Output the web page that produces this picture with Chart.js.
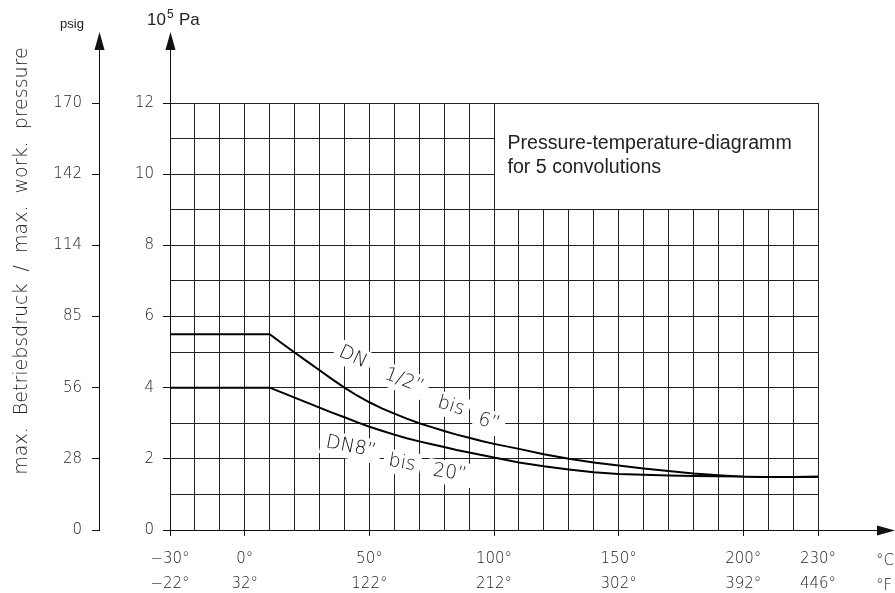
<!DOCTYPE html>
<html>
<head>
<meta charset="utf-8">
<script src="https://cdn.jsdelivr.net/npm/chart.js@4.4.1/dist/chart.umd.min.js"></script>
<style>
  html, body { margin: 0; padding: 0; background: #fff; }
  #wrap { width: 895px; height: 593px; position: relative; }
</style>
</head>
<body>
<div id="wrap"><canvas id="chart"></canvas></div>
<script>
// temperature in °C, pressure in 10^5 Pa
const temps = [-30, 10, 15, 20, 25, 30, 35, 40, 45, 50, 55, 60, 65, 70, 75, 80, 85, 90, 95, 100, 110, 120, 130, 140, 150, 160, 170, 180, 190, 200, 210, 220, 230];
const dnHalfTo6 = [5.5, 5.5, 5.24, 4.99, 4.74, 4.49, 4.24, 4.0, 3.78, 3.59, 3.42, 3.27, 3.13, 3.0, 2.89, 2.78, 2.68, 2.59, 2.5, 2.42, 2.28, 2.13, 2.0, 1.9, 1.81, 1.73, 1.66, 1.59, 1.54, 1.5, 1.49, 1.49, 1.5];
const dn8To20 = [4.0, 4.0, 3.86, 3.72, 3.58, 3.44, 3.3, 3.17, 3.03, 2.9, 2.79, 2.68, 2.58, 2.49, 2.41, 2.33, 2.25, 2.18, 2.11, 2.04, 1.9, 1.79, 1.7, 1.62, 1.575, 1.55, 1.53, 1.52, 1.51, 1.5, 1.49, 1.49, 1.5];

const celsiusTicks = [-30, 0, 50, 100, 150, 200, 230];
const fahrenheitTicks = [-22, 32, 122, 212, 302, 392, 446];
const paTicks = [0, 2, 4, 6, 8, 10, 12];
const psigTicks = [0, 28, 56, 85, 114, 142, 170];

const thin = "'DejaVu Sans', 'Liberation Sans', sans-serif";
const arial = "'Liberation Sans', Arial, sans-serif";
const ink = "#111";

const fmt = (v) => (v < 0 ? "\u2212" + Math.abs(v) : String(v)) + "°";

// words written along the curves: [text, °C, 10^5 Pa, angle]
const curveWords = [
  ["DN", 43.4, 4.86, 25],
  ["1/2\u201D", 63.9, 4.19, 21],
  ["bis", 82.7, 3.48, 17],
  ["6\u201D", 98.0, 3.03, 14],
  ["DN8\u201D", 42.6, 2.33, 11],
  ["bis", 63.1, 1.88, 10],
  ["20\u201D", 82.3, 1.6, 8],
];

const al = (p) => Math.round(p - 0.5) + 0.5;

function arrowUp(ctx, x, tip) {
  ctx.beginPath();
  ctx.moveTo(x, tip);
  ctx.lineTo(x - 5, tip + 18);
  ctx.lineTo(x + 5, tip + 18);
  ctx.closePath();
  ctx.fill();
}

const decor = {
  id: "decor",
  beforeDatasetsDraw(chart) {
    const { ctx, scales: { x, y } } = chart;
    const l = al(x.getPixelForValue(100)), r = al(x.getPixelForValue(230));
    const t = al(y.getPixelForValue(12)), b = al(y.getPixelForValue(9));
    ctx.save();
    ctx.fillStyle = "#fff";
    ctx.fillRect(l + 0.5, t + 0.5, r - l - 1, b - t - 1);
    ctx.fillStyle = "#222";
    ctx.font = "19.6px " + arial;
    ctx.textBaseline = "alphabetic";
    ctx.fillText("Pressure-temperature-diagramm", l + 13, t + 45);
    ctx.fillText("for 5 convolutions", l + 13, t + 69);
    ctx.restore();
  },
  afterDatasetsDraw(chart) {
    const { ctx, scales: { x, y } } = chart;
    ctx.save();
    ctx.font = "200 19px " + thin;
    ctx.textAlign = "center";
    ctx.textBaseline = "middle";
    curveWords.forEach(([txt, t, p, ang]) => {
      ctx.save();
      ctx.translate(x.getPixelForValue(t), y.getPixelForValue(p));
      ctx.rotate((ang * Math.PI) / 180);
      const w = ctx.measureText(txt).width;
      ctx.fillStyle = "#fff";
      ctx.fillRect(-w / 2 - 5, -12, w + 10, 24);
      ctx.fillStyle = ink;
      ctx.fillText(txt, 0, 0);
      ctx.restore();
    });
    ctx.restore();
  },
  afterDraw(chart) {
    const { ctx, chartArea, scales: { yPsig } } = chart;
    const xa = al(chartArea.left), xp = al(yPsig.right), yb = al(chartArea.bottom);
    ctx.save();
    ctx.strokeStyle = ink;
    ctx.fillStyle = ink;
    ctx.lineWidth = 1;
    ctx.beginPath();
    ctx.moveTo(xa, chartArea.top);
    ctx.lineTo(xa, 48);
    ctx.moveTo(xp, chartArea.bottom);
    ctx.lineTo(xp, 48);
    ctx.moveTo(163, yb);
    ctx.lineTo(880, yb);
    ctx.stroke();
    arrowUp(ctx, xa, 32);
    arrowUp(ctx, xp, 32);
    ctx.beginPath();
    ctx.moveTo(895, yb);
    ctx.lineTo(877, yb - 5);
    ctx.lineTo(877, yb + 5);
    ctx.closePath();
    ctx.fill();

    // unit labels
    ctx.fillStyle = "#222";
    ctx.font = "13px " + arial;
    ctx.textAlign = "center";
    ctx.textBaseline = "alphabetic";
    ctx.fillText("psig", 72, 28);
    ctx.textAlign = "left";
    ctx.font = "17px " + arial;
    ctx.fillText("10", 147, 25);
    const w10 = ctx.measureText("10").width;
    ctx.font = "12px " + arial;
    ctx.fillText("5", 147 + w10 + 1, 18);
    ctx.font = "17px " + arial;
    ctx.fillText("Pa", 147 + w10 + 13, 25);

    ctx.font = "200 15px " + thin;
    ctx.textBaseline = "middle";
    ctx.fillText("°C", 876, 561);
    ctx.fillText("°F", 876, 586);

    ctx.translate(22, 261);
    ctx.rotate(-Math.PI / 2);
    ctx.textAlign = "center";
    ctx.font = "200 19px " + thin;
    ctx.fillText("max.  Betriebsdruck  /  max.  work.  pressure", 0, 0);
    ctx.restore();
  },
};

const tickFont = { family: thin, size: 15, weight: "200" };

new Chart(document.getElementById("chart"), {
  type: "line",
  data: {
    datasets: [
      {
        label: "DN 1/2\" bis 6\"",
        data: temps.map((t, i) => ({ x: t, y: dnHalfTo6[i] })),
        borderColor: "#000",
        borderWidth: 2,
        pointRadius: 0,
        tension: 0,
      },
      {
        label: "DN8\" bis 20\"",
        data: temps.map((t, i) => ({ x: t, y: dn8To20[i] })),
        borderColor: "#000",
        borderWidth: 2,
        pointRadius: 0,
        tension: 0,
      },
    ],
  },
  options: {
    responsive: true,
    maintainAspectRatio: false,
    animation: false,
    layout: { padding: { left: 0, right: 77, top: 103, bottom: 0 } },
    plugins: { legend: { display: false }, tooltip: { enabled: false } },
    scales: {
      x: {
        type: "linear",
        min: -30,
        max: 230,
        afterFit: (s) => { s.height = 63; },
        grid: {
          color: "#222",
          lineWidth: 1,
          tickLength: 6,
          tickColor: (c) => (celsiusTicks.includes(c.tick.value) ? ink : "rgba(0,0,0,0)"),
        },
        border: { color: ink },
        ticks: {
          stepSize: 10,
          autoSkip: false,
          maxRotation: 0,
          padding: 11,
          color: "#222",
          font: { ...tickFont, lineHeight: "25px" },
          callback: (v) => {
            const i = celsiusTicks.indexOf(v);
            return i < 0 ? "" : [fmt(v), fmt(fahrenheitTicks[i])];
          },
        },
      },
      y: {
        position: "left",
        weight: 0,
        min: 0,
        max: 12,
        afterFit: (s) => { s.width = 71; },
        grid: {
          color: "#222",
          lineWidth: 1,
          tickLength: 7,
          tickColor: (c) => (paTicks.includes(c.tick.value) ? ink : "rgba(0,0,0,0)"),
        },
        border: { color: ink },
        ticks: {
          stepSize: 1,
          autoSkip: false,
          padding: 9,
          color: "#222",
          font: tickFont,
          callback: (v) => (paTicks.includes(v) ? String(v) : ""),
        },
      },
      yPsig: {
        position: "left",
        weight: 1,
        min: 0,
        max: 12,
        afterFit: (s) => { s.width = 99; },
        grid: { drawOnChartArea: false, tickLength: 7, tickColor: ink },
        border: { color: ink },
        ticks: {
          stepSize: 2,
          autoSkip: false,
          padding: 10,
          color: "#222",
          font: tickFont,
          callback: (v) => {
            const i = paTicks.indexOf(v);
            return i < 0 ? "" : String(psigTicks[i]);
          },
        },
      },
    },
  },
  plugins: [decor],
});
</script>
</body>
</html>
